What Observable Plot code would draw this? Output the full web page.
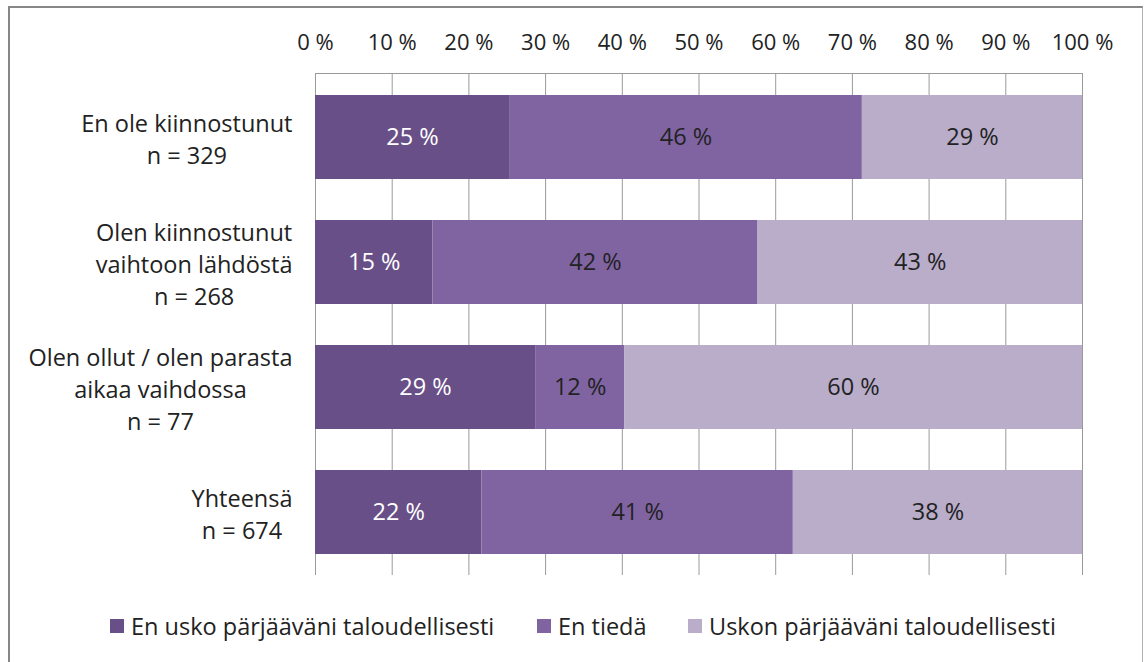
<!DOCTYPE html>
<html><head><meta charset="utf-8">
<script src="https://cdn.jsdelivr.net/npm/d3@7"></script>
<script src="https://cdn.jsdelivr.net/npm/@observablehq/plot@0.6"></script>
<style>
body{margin:0;background:#fff;}
#wrap{position:relative;width:1144px;height:662px;overflow:hidden;font-family:"Open Sans", sans-serif;}
#border{position:absolute;left:8px;top:6px;width:1135px;height:720px;border-left:2px solid #878787;border-top:2px solid #878787;border-right:1px solid #b0b0b0;box-sizing:border-box;}
#chart{position:absolute;left:0;top:0;}
#legend{position:absolute;top:610px;left:0;width:1144px;height:32px;font-size:23.5px;color:#222}
.item{position:absolute;top:0;display:flex;align-items:center;height:32px;white-space:nowrap}
.sw{width:14px;height:14px;margin-right:7px}
</style>
</head>
<body>
<div id="wrap"><div id="border"></div><div id="chart"></div><div id="legend"></div></div>
<script>
const categoryLines = [
  ["En ole kiinnostunut", "n = 329"],
  ["Olen kiinnostunut", "vaihtoon lähdöstä", "n = 268"],
  ["Olen ollut / olen parasta", "aikaa vaihdossa", "n = 77"],
  ["Yhteensä", "n = 674"]
];
const series = ["En usko pärjääväni taloudellisesti", "En tiedä", "Uskon pärjääväni taloudellisesti"];
const colors = ["#694f87", "#8064a2", "#b9adca"];
const valuesEnUsko = [25.3, 15.3, 28.7, 21.7];
const valuesEnTieda = [46.0, 42.4, 11.6, 40.6];
const valuesUskon = [28.7, 42.3, 59.7, 37.7];
const labelsEnUsko = [25, 15, 29, 22];
const labelsEnTieda = [46, 42, 12, 41];
const labelsUskon = [29, 43, 60, 38];
const xTicks = [0, 10, 20, 30, 40, 50, 60, 70, 80, 90, 100];

const seriesValues = [valuesEnUsko, valuesEnTieda, valuesUskon];
const seriesLabels = [labelsEnUsko, labelsEnTieda, labelsUskon];
const categories = categoryLines.map(l => l.join("\n"));
const data = categories.flatMap((c, i) => series.map((s, j) => ({
  cat: c, series: s, value: seriesValues[j][i], label: seriesLabels[j][i] + "\u00a0%"
})));

const FS = 23.5;
const TFS = 22;
const FONT = "Open Sans";
const ctx = document.createElement("canvas").getContext("2d");
ctx.font = `${FS}px "${FONT}"`;

const catMarks = categoryLines.map((lines, i) => {
  const w = d3.max(lines, l => ctx.measureText(l).width);
  return Plot.text([categories[i]], {
    y: d => d, text: d => d, frameAnchor: "left", textAnchor: "middle",
    dx: -(23 + w / 2), lineHeight: 1.37, fontSize: FS, fill: "#222"
  });
});

const chart = Plot.plot({
  width: 1144, height: 600,
  marginLeft: 315, marginRight: 62, marginTop: 73, marginBottom: 25,
  style: {fontFamily: FONT, fontSize: FS + "px", color: "#222", background: "transparent"},
  x: {domain: [0, 100], axis: null},
  y: {domain: categories, axis: null, paddingInner: 0.33, paddingOuter: 0.165},
  color: {domain: series, range: colors},
  marks: [
    Plot.gridX(xTicks, {stroke: "#9a9a9a", strokeOpacity: 1}),
    Plot.frame({anchor: "top", stroke: "#9a9a9a"}),
    Plot.barX(data, {x: "value", y: "cat", fill: "series", order: series}),
    Plot.text(data, Plot.stackX({x: "value", y: "cat", z: "series", order: series,
      text: d => d.series === series[0] ? d.label : "", fill: "white", fontSize: FS})),
    Plot.text(data, Plot.stackX({x: "value", y: "cat", z: "series", order: series,
      text: d => d.series !== series[0] ? d.label : "", fill: "#222", fontSize: FS})),
    Plot.axisX(xTicks, {anchor: "top", tickSize: 0, tickPadding: 24, label: null,
      tickFormat: d => d + "\u00a0%", fontSize: TFS, fill: "#222"}),
    ...catMarks
  ]
});
document.getElementById("chart").appendChild(chart);

const legendLefts = [110, 537, 688];
const legend = document.getElementById("legend");
series.forEach((s, i) => {
  const it = document.createElement("div");
  it.className = "item";
  it.style.left = legendLefts[i] + "px";
  it.innerHTML = `<div class="sw" style="background:${colors[i]}"></div><span>${s}</span>`;
  legend.appendChild(it);
});
</script>
</body></html>
